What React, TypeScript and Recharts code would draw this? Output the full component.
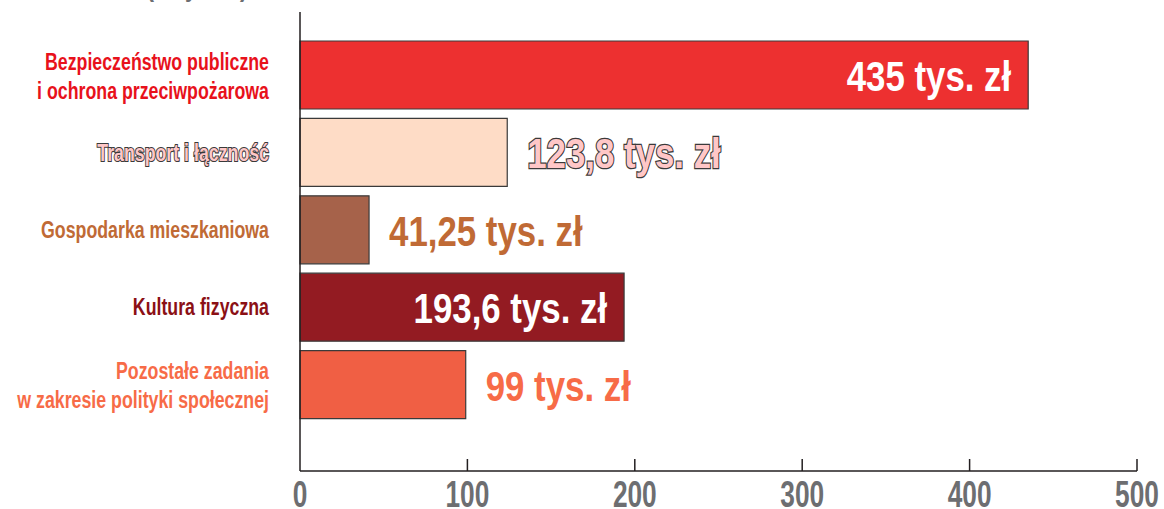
import React from "react";
import {
  BarChart,
  Bar,
  XAxis,
  YAxis,
  Cell,
  LabelList,
} from "recharts";

const kategorie = [
  "Bezpieczeństwo publiczne|i ochrona przeciwpożarowa",
  "Transport i łączność",
  "Gospodarka mieszkaniowa",
  "Kultura fizyczna",
  "Pozostałe zadania|w zakresie polityki społecznej",
];
const wartosci = [435, 123.8, 41.25, 193.6, 99];
const kolorySlupkow = ["#ed3030", "#fedcc6", "#a6624a", "#931b22", "#f05f44"];
const koloryEtykiet = ["#e8111b", "#ffc7c7", "#c06a35", "#8b1015", "#f76b47"];
const koloryWartosci = ["#ffffff", "#ffc7c7", "#c06a35", "#ffffff", "#f76b47"];
const wewnatrz = [true, false, false, true, false];
const obrys = [false, true, false, false, false];
const ticksX = [0, 100, 200, 300, 400, 500];

const dane = kategorie.map((k, i) => ({ kategoria: k, wartosc: wartosci[i], idx: i }));

// brak kroju "condensed" – zwykły Liberation Sans zwężony transformacją
const FONT = "'Liberation Sans', Arial, sans-serif";

const formatuj = (v: number) => `${String(v).replace(".", ",")} tys. zł`;

function TickY(props: any) {
  const { x, y, payload, index } = props;
  const linie = String(payload.value).split("|");
  const lh = 29;
  const start = linie.length > 1 ? y - 5 : y + 8.5;
  return (
    <text
      transform={`translate(${x - 31}, ${start}) scale(0.74, 1)`}
      textAnchor="end"
      fontFamily={FONT}
      fontWeight="bold"
      fontSize={24}
      fill={koloryEtykiet[index]}
      stroke={obrys[index] ? "#3a3a3a" : "none"}
      strokeWidth={obrys[index] ? 2.2 : 0}
      paintOrder="stroke"
    >
      {linie.map((l, i) => (
        <tspan key={i} x={0} dy={i === 0 ? 0 : lh}>
          {l}
        </tspan>
      ))}
    </text>
  );
}

function TickX(props: any) {
  const { x, y, payload } = props;
  return (
    <g>
      {payload.value > 0 && (
        <line x1={x} x2={x} y1={y - 12} y2={y} stroke="#231f20" strokeWidth={1.5} />
      )}
      <text
        transform={`translate(${x}, ${y + 36}) scale(0.73, 1)`}
        textAnchor="middle"
        fontFamily={FONT}
        fontWeight="bold"
        fontSize={36}
        fill="#6d6e71"
      >
        {payload.value}
      </text>
    </g>
  );
}

function EtykietaWartosci(props: any) {
  const { x, y, width, height, index, value } = props;
  const inside = wewnatrz[index];
  const tx = inside ? x + width - 17 : x + width + 20;
  return (
    <text
      transform={`translate(${tx}, ${y + height / 2 + 16}) scale(0.81, 1)`}
      textAnchor={inside ? "end" : "start"}
      fontFamily={FONT}
      fontWeight="bold"
      fontSize={43}
      fill={koloryWartosci[index]}
      stroke={obrys[index] ? "#3a3a3a" : "none"}
      strokeWidth={obrys[index] ? 2.5 : 0}
      paintOrder="stroke"
    >
      {formatuj(value)}
    </text>
  );
}

export default function App() {
  return (
    <div style={{ position: "absolute", top: 0, left: 0, width: 1164, height: 509, background: "#fff" }}>
      <BarChart
        width={1164}
        height={509}
        data={dane}
        layout="vertical"
        margin={{ top: 12, right: 27, left: 0, bottom: 0 }}
        barCategoryGap={0}
      >
        <text
          transform="translate(197, -4) scale(0.75, 1)"
          textAnchor="middle"
          fontFamily={FONT}
          fontWeight="bold"
          fontSize={30}
          fill="#6d6e71"
        >
          (w tys. zł)
        </text>
        <XAxis
          type="number"
          domain={[0, 500]}
          ticks={ticksX}
          interval={0}
          height={38}
          tickSize={0}
          tickMargin={0}
          tickLine={false}
          axisLine={{ stroke: "#231f20", strokeWidth: 1.5 }}
          tick={<TickX />}
        />
        <YAxis
          type="category"
          dataKey="kategoria"
          width={300}
          padding={{ top: 24, bottom: 48 }}
          tickSize={0}
          tickMargin={0}
          tickLine={false}
          axisLine={{ stroke: "#231f20", strokeWidth: 1.5 }}
          tick={<TickY />}
          interval={0}
        />
        <Bar dataKey="wartosc" barSize={68} stroke="#3a3a3a" strokeWidth={1.2} isAnimationActive={false}>
          {dane.map((d, i) => (
            <Cell key={i} fill={kolorySlupkow[i]} />
          ))}
          <LabelList dataKey="wartosc" content={<EtykietaWartosci />} />
        </Bar>
      </BarChart>
    </div>
  );
}
